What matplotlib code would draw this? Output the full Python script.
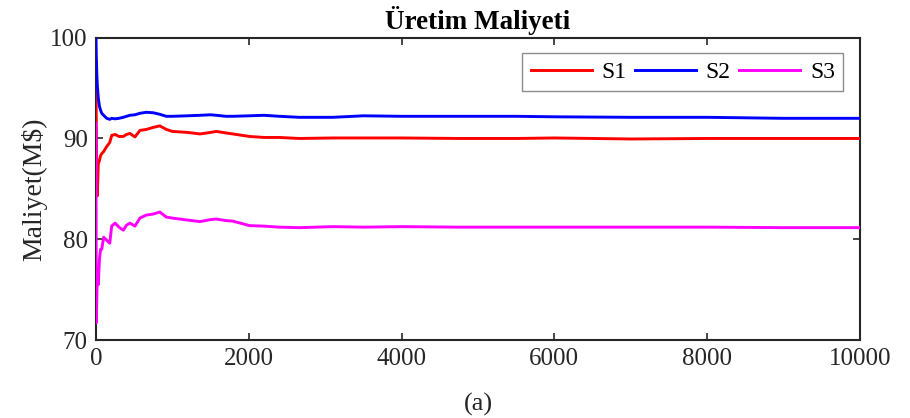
import matplotlib
matplotlib.use("Agg")
import matplotlib.pyplot as plt

plt.rcParams["font.family"] = ["Liberation Serif", "DejaVu Serif"]
plt.rcParams["mathtext.fontset"] = "stix"

# iterasyon ekseni (ortak)
iterasyon = [0, 3, 10, 17, 30, 45, 60, 75, 100, 140, 180, 205, 250, 300, 357, 400,
             444, 510, 575, 660, 750, 835, 920, 1000, 1200, 1360, 1500, 1575, 1700,
             1790, 2010, 2200, 2400, 2660, 3100, 3500, 4000, 4750, 5500, 6000, 7000,
             8000, 9000, 10000]

s1 = [97.2, 92.0, 86.0, 84.3, 87.5, 87.8, 88.3, 88.5, 88.7, 89.2, 89.6, 90.3, 90.4,
      90.2, 90.2, 90.4, 90.5, 90.15, 90.8, 90.9, 91.1, 91.25, 90.9, 90.7, 90.6, 90.45,
      90.6, 90.7, 90.55, 90.45, 90.2, 90.1, 90.1, 90.0, 90.05, 90.05, 90.05, 90.0,
      90.0, 90.05, 89.95, 90.0, 90.0, 90.0]

s2 = [100.0, 98.5, 96.5, 95.3, 94.0, 93.2, 92.8, 92.5, 92.3, 92.0, 91.9, 92.0, 91.95,
      92.0, 92.1, 92.2, 92.3, 92.35, 92.5, 92.6, 92.55, 92.4, 92.2, 92.2, 92.25, 92.3,
      92.35, 92.3, 92.2, 92.2, 92.25, 92.3, 92.2, 92.1, 92.1, 92.25, 92.2, 92.2, 92.2,
      92.15, 92.1, 92.1, 92.0, 92.0]

s3 = [91.5, 71.7, 74.0, 76.5, 75.5, 78.0, 79.0, 79.0, 80.2, 79.9, 79.6, 81.3, 81.6,
      81.2, 80.9, 81.4, 81.6, 81.3, 82.1, 82.4, 82.5, 82.7, 82.2, 82.1, 81.9, 81.75,
      81.95, 82.0, 81.85, 81.8, 81.35, 81.3, 81.2, 81.15, 81.25, 81.2, 81.25, 81.2,
      81.2, 81.2, 81.2, 81.2, 81.15, 81.15]

etiketler = ["S1", "S2", "S3"]
renkler = ["#ff0000", "#0000ff", "#ff00ff"]

fig = plt.figure(figsize=(9.1, 4.18), dpi=100)
ax = fig.add_axes([0.1055, 0.1866, 0.8395, 0.7232])

for seri, etiket, renk in zip([s1, s2, s3], etiketler, renkler):
    ax.plot(iterasyon, seri, color=renk, lw=2.1, label=etiket, zorder=3)

ax.set_xlim(0, 10000)
ax.set_ylim(70, 100)
ax.set_xticks([0, 2000, 4000, 6000, 8000, 10000])
ax.set_yticks([70, 80, 90, 100])
ax.tick_params(direction="in", top=True, right=True, length=5, width=1.2,
               labelsize=18, colors="#262626", pad=6)
for sp in ax.spines.values():
    sp.set_linewidth(1.5)
    sp.set_color("#262626")

ax.set_title("Üretim Maliyeti", fontsize=19.5, fontweight="bold", pad=6)
ax.set_ylabel("Maliyet(M\\$)", fontsize=20, color="#262626", labelpad=2)
ax.set_xlabel("(a)", fontsize=19, color="#262626", labelpad=16)

leg = ax.legend(loc="upper right", ncol=3, fontsize=17, frameon=True, fancybox=False,
                handlelength=2.6, columnspacing=0.35, handletextpad=0.4,
                borderpad=0.35, borderaxespad=0, bbox_to_anchor=(0.978, 0.949))
leg.get_frame().set_edgecolor("#707070")
leg.get_frame().set_linewidth(1.0)
leg.set_zorder(5)

fig.savefig("out.png", dpi=100)
